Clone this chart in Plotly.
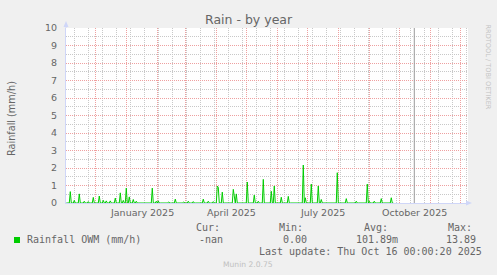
import pandas as pd
import plotly.graph_objects as go

# ---- data (daily values, mm/h) ----
data_start = "2024-11-02"
data_end = "2025-09-25"
rain_dates = ["2024-11-06", "2024-11-10", "2024-11-15", "2024-11-20", "2024-11-24",
              "2024-11-29", "2024-12-05", "2024-12-09", "2024-12-12", "2024-12-16",
              "2024-12-21", "2024-12-26", "2024-12-29", "2025-01-01", "2025-01-04",
              "2025-01-08", "2025-01-11", "2025-01-27", "2025-01-31", "2025-02-02",
              "2025-02-12", "2025-02-19", "2025-02-27", "2025-03-04", "2025-03-09",
              "2025-03-19", "2025-03-24", "2025-03-29", "2025-04-02", "2025-04-03",
              "2025-04-07", "2025-04-18", "2025-04-19", "2025-04-21", "2025-05-02",
              "2025-05-09", "2025-05-13", "2025-05-18", "2025-05-26", "2025-05-29",
              "2025-06-05", "2025-06-12", "2025-06-27", "2025-06-29", "2025-07-05",
              "2025-07-12", "2025-07-15", "2025-07-31", "2025-08-09", "2025-08-19",
              "2025-08-30", "2025-09-01", "2025-09-06", "2025-09-13", "2025-09-23"]
rain_values = [0.65, 0.15, 0.52, 0.1, 0.08,
               0.32, 0.4, 0.15, 0.12, 0.12,
               0.28, 0.58, 0.15, 0.85, 0.35,
               0.2, 0.1, 0.85, 0.1, 0.12,
               0.05, 0.22, 0.05, 0.1, 0.08,
               0.22, 0.1, 0.08, 0.97, 0.9,
               0.62, 0.78, 0.3, 0.52, 1.2,
               0.45, 0.1, 1.35, 0.67, 0.97,
               0.33, 0.38, 2.17, 0.3, 1.08,
               0.97, 0.2, 1.73, 0.25, 0.1,
               1.08, 0.1, 0.1, 0.25, 0.3]

x_range = ["2024-11-01 17:00", "2025-12-08 17:00"]
now_time = "2025-10-16 00:00:20"
axis_labels = ["January 2025", "April 2025", "July 2025", "October 2025"]
axis_label_pos = ["2025-01-16 12:00", "2025-04-16", "2025-07-16 12:00", "2025-10-16 12:00"]
y_ticks = list(range(0, 11))

legend_name = "Rainfall OWM (mm/h)"
stat_headers = ["Cur:", "Min:", "Avg:", "Max:"]
stat_values = ["-nan", "0.00", "101.89m", "13.89"]
last_update = "Last update: Thu Oct 16 00:00:20 2025"

# ---- build series ----
days = pd.date_range(data_start, data_end, freq="D")
vals = pd.Series(0.0, index=days)
for d, v in zip(rain_dates, rain_values):
    vals[pd.Timestamp(d)] = v

major_grid = pd.date_range("2024-12-01", "2025-12-01", freq="MS")
minor_grid = pd.date_range("2024-11-10", "2025-12-08", freq="14D")

W, H = 497, 275
L, R, T, B = 66, 468, 28, 203


def px(x):
    return (x - L) / (R - L)


def py(y):
    return (B - y) / (B - T)


FONT = "DejaVu Sans"
MONO = "DejaVu Sans Mono"
FC = "#666666"
AXC = "#cfd6f8"

fig = go.Figure()
fig.add_trace(go.Scatter(x=vals.index, y=vals.values, mode="lines",
                         line=dict(color="#00cc00", width=1), showlegend=False,
                         hoverinfo="skip"))

fig.update_layout(
    width=W, height=H,
    margin=dict(l=L, r=W - R, t=T, b=H - B, pad=0),
    paper_bgcolor="#f0f0f0", plot_bgcolor="#ffffff",
    showlegend=False,
    xaxis=dict(type="date", range=x_range, tickmode="array", tickvals=list(major_grid),
               showticklabels=False, ticks="", showgrid=True, gridcolor="#eea0a0",
               griddash="1px,1px", gridwidth=1, zeroline=False,
               showline=True, linecolor=AXC, linewidth=1, layer="below traces",
               minor=dict(tickmode="array", tickvals=list(minor_grid), showgrid=True,
                          gridcolor="#c8c8c8", griddash="1px,1px", gridwidth=1, ticks="")),
    yaxis=dict(range=[0, 10], tickmode="array", tickvals=y_ticks,
               ticktext=[str(v) for v in y_ticks], ticks="", ticklabelstandoff=6,
               tickfont=dict(family=FONT, size=9.5, color=FC),
               showgrid=True, gridcolor="#eea0a0", griddash="1px,1px", gridwidth=1,
               zeroline=False, showline=True, linecolor=AXC, linewidth=1,
               layer="below traces",
               minor=dict(dtick=0.5, showgrid=True, gridcolor="#c8c8c8",
                          griddash="1px,1px", gridwidth=1, ticks="")),
)

shapes = []
# "now" line
shapes.append(dict(type="line", xref="x", yref="paper", x0=now_time, x1=now_time,
                   y0=0, y1=1, line=dict(color="#999999", width=1), layer="above"))
# axis arrows
shapes.append(dict(type="line", xref="paper", yref="paper", x0=px(L), x1=px(L),
                   y0=py(T), y1=py(24), line=dict(color=AXC, width=1)))
shapes.append(dict(type="path", xref="paper", yref="paper",
                   path=f"M {px(63.5)} {py(27)} L {px(68.5)} {py(27)} L {px(66)} {py(21)} Z",
                   fillcolor=AXC, line=dict(width=0)))
shapes.append(dict(type="path", xref="paper", yref="paper",
                   path=f"M {px(466)} {py(200.5)} L {px(466)} {py(205.5)} L {px(472)} {py(203)} Z",
                   fillcolor=AXC, line=dict(width=0)))
# legend colour box
shapes.append(dict(type="rect", xref="paper", yref="paper", x0=px(14), x1=px(20),
                   y0=py(243), y1=py(237), fillcolor="#00cc00", line=dict(width=0)))
fig.update_layout(shapes=shapes)

ann = []
ann.append(dict(text="Rain - by year", x=px(248.5), y=py(19), xref="paper", yref="paper",
                showarrow=False, xanchor="center", yanchor="middle",
                font=dict(family=FONT, size=12.5, color=FC)))
ann.append(dict(text="Rainfall (mm/h)", x=px(11), y=py(119), xref="paper", yref="paper",
                showarrow=False, textangle=-90, xanchor="center", yanchor="middle",
                font=dict(family=FONT, size=9.7, color=FC)))
ann.append(dict(text="RRDTOOL / TOBI OETIKER", x=px(487.5), y=py(67), xref="paper",
                yref="paper", showarrow=False, textangle=90, xanchor="center",
                yanchor="middle", font=dict(family=FONT, size=6.6, color="#c4c4c4")))
for lab, pos in zip(axis_labels, axis_label_pos):
    ann.append(dict(text=lab, x=pos, y=py(212), xref="x", yref="paper", showarrow=False,
                    xanchor="center", yanchor="middle",
                    font=dict(family=FONT, size=9.5, color=FC)))
ann.append(dict(text=legend_name, x=px(25), y=py(239.5), xref="paper", yref="paper",
                showarrow=False, xanchor="left", yanchor="middle",
                font=dict(family=MONO, size=10, color=FC)))
for h, hx in zip(stat_headers, [194, 277, 362, 446]):
    ann.append(dict(text=h, x=px(hx), y=py(227), xref="paper", yref="paper",
                    showarrow=False, xanchor="left", yanchor="middle",
                    font=dict(family=MONO, size=10, color=FC)))
for v, vx in zip(stat_values, [225, 309, 400, 478]):
    ann.append(dict(text=v, x=px(vx), y=py(239.5), xref="paper", yref="paper",
                    showarrow=False, xanchor="right", yanchor="middle",
                    font=dict(family=MONO, size=10, color=FC)))
ann.append(dict(text=last_update, x=px(484), y=py(251.7), xref="paper", yref="paper",
                showarrow=False, xanchor="right", yanchor="middle",
                font=dict(family=MONO, size=10, color=FC)))
ann.append(dict(text="Munin 2.0.75", x=px(248), y=py(264.5), xref="paper", yref="paper",
                showarrow=False, xanchor="center", yanchor="middle",
                font=dict(family=FONT, size=7.6, color="#c0c0c0")))
fig.update_layout(annotations=ann)

fig.write_html("out.html")
